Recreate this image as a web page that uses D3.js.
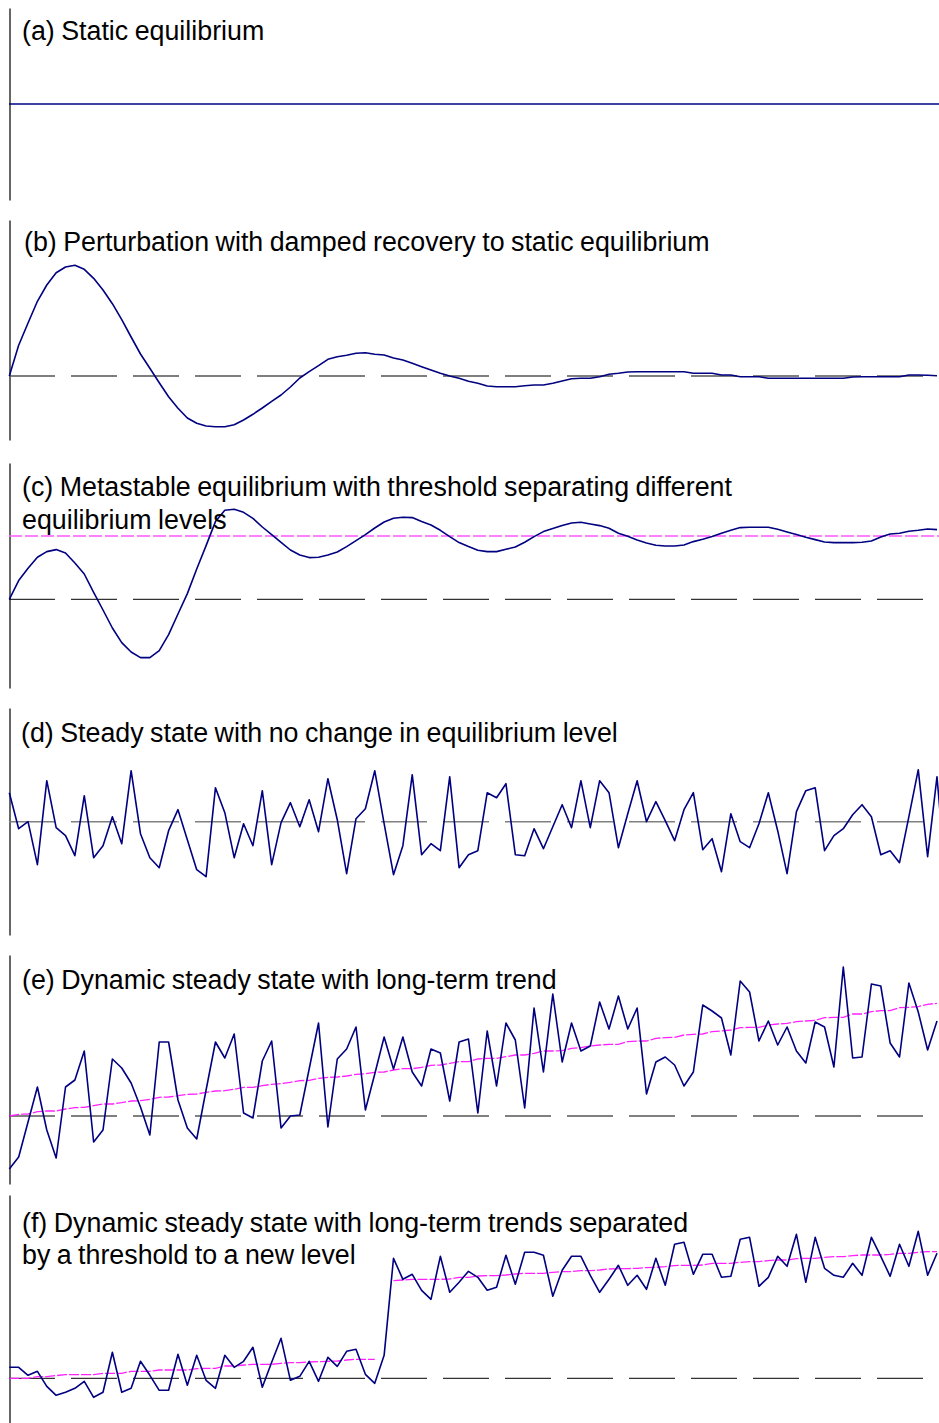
<!DOCTYPE html>
<html>
<head>
<meta charset="utf-8">
<script src="https://cdn.jsdelivr.net/npm/d3@7"></script>
<style>
  body { margin: 0; background: #fff; }
  svg { display: block; }
  .title { font-family: "Liberation Sans", Arial, sans-serif; font-size: 26.8px; word-spacing: -1px; fill: #000; }
  .axis path { stroke: #000; stroke-width: 1.2; }
</style>
</head>
<body>
<svg id="chart"></svg>
<script>
// ---- values (arbitrary units, 0 = equilibrium level) ----
const seriesA = [0, 0];

const seriesB = [0, 30.7, 53, 74.7, 91, 103.3, 109, 110.7, 106.7, 97.7, 86, 72.3, 56.3, 39, 22, 7.7, -6.7, -20.7, -32.3, -42,
  -47.3, -50, -50.7, -50.7, -48.7, -44, -38.3, -32, -25.3, -19, -11, -2, 4.3, 10.3, 16.7, 19.3, 20.7, 22.7, 23.3, 21.7,
  21, 18, 16, 12.7, 9.3, 6, 2.7, 0, -2.3, -5.3, -7.3, -10, -10.7, -10.7, -10.7, -9.7, -9, -9, -7.3, -5,
  -2.7, -2.3, -2.3, -0.7, 1.7, 2.7, 4, 4.3, 4.3, 4.3, 4.3, 4.3, 4.3, 2.7, 2.7, 2.7, 1, 1, -0.7, -0.7,
  -0.7, -2.3, -2.3, -2.3, -2.3, -2.3, -2.3, -2.3, -2.3, -2.3, -1, -0.7, -0.7, -0.7, -0.7, -0.7, 1, 1, 0.7, 0.3];

const seriesC = [0, 18.7, 31, 42, 47.7, 49.7, 46.3, 36.3, 25.3, 7, -10.7, -28.7, -43.3, -52.7, -58.3, -58.3, -51.3, -35.3, -14.7, 5.7,
  30.3, 53.7, 77.7, 89, 90, 87, 81, 72.3, 64.7, 57, 49.3, 44.3, 41.7, 42, 44.3, 47.3, 52.7, 58.7, 64.7, 71.3,
  77.3, 81, 82, 81.7, 77.7, 74.3, 69, 62.7, 56.7, 52.7, 49, 47.7, 47.7, 50, 52.3, 57, 62.7, 67.7, 70.7, 73.7,
  76.3, 77, 75.3, 73.7, 71, 66, 63, 59.3, 56.3, 54, 53.3, 53.3, 54.3, 57.7, 60, 62.7, 66, 69, 71.7, 72,
  72, 72, 70, 67.3, 64.7, 62, 59.7, 57.3, 56.7, 56.7, 56.7, 57, 58.3, 62.3, 65.3, 66, 68, 69, 70.3, 69.7];
const thresholdC = 63.3;

const seriesD = [29, -7, 0, -43, 41, -6, -14, -34, 26, -36, -24, 5, -22, 51, -12, -36, -46, -9, 12, -18,
  -48, -55, 34, 9, -36, -2, -24, 31, -43, -1, 19, -5, 22, -10, 43, 2, -52, 3, 13, 51,
  -2, -53, -24, 47, -33, -22, -29, 45, -46, -33, -29, 29, 24, 38, -33, -34, -7, -27, -5, 17,
  -6, 41, -6, 41, 29, -26, 8, 41, 0, 20, 1, -19, 12, 29, -28, -17, -50, 8, -20, -26,
  -2, 29, -9, -52, 10, 31, 34, -29, -14, -7, 7, 17, 5, -33, -29, -41, 5, 52, -35, 45, -65];

const seriesE = [-53, -41, -6, 29, -14, -42, 29, 36, 65, -26, -14, 57, 48, 33, 9, -19, 74, 74, 16, -12,
  -23, 26, 74, 58, 82, 3, -2, 55, 75, -12, 0, 1, 47, 93, -11, 57, 67, 89, 6, 42,
  79, 47, 79, 44, 30, 67, 63, 15, 74, 77, 3, 85, 30, 93, 76, 8, 108, 44, 122, 54,
  93, 65, 70, 114, 87, 120, 87, 108, 22, 54, 59, 51, 30, 44, 111, 105, 98, 61, 135, 124,
  75, 95, 71, 89, 65, 53, 94, 89, 49, 149, 58, 59, 132, 130, 73, 59, 133, 104, 66, 95];
const trendE = [0, 1.7, 2, 4.3, 5, 5, 7, 8.3, 8.7, 10.3, 12, 12, 13.3, 15, 15.3, 16.7, 18.7, 19, 20.3, 21.7,
  22, 23.7, 25, 25.3, 26.7, 28.7, 28.7, 30.3, 31.7, 32.3, 33.7, 35.3, 35.7, 37.7, 38.7, 39, 40, 41.7, 42.3, 43.7,
  44, 46, 47.3, 47.3, 48.7, 50.7, 51, 52.7, 54.3, 54.3, 57, 57.7, 57.7, 59.3, 61, 61, 62.7, 65, 65, 65.3,
  67.7, 68.3, 70, 71, 71.7, 71.7, 74.3, 75, 75, 77.7, 78.3, 78.7, 81, 81.7, 82, 84.3, 85, 86, 88.3, 88.7,
  88.7, 91, 92, 92.7, 94.3, 95, 95.7, 98.3, 98.7, 98.7, 102, 102, 104.3, 105.3, 105.3, 108.3, 108.7, 109.3, 111.7, 112.7];

const seriesF = [11, 11, 3, 7, -8, -17, -14, -10, -3, -19, -14, 26, -14, -10, 17, 3, -12, -12, 24, -7,
  23, -2, -10, 23, 11, 17, 31, -9, 16, 40, -2, 2, 17, -3, 21, 12, 27, 29, 4, -5,
  23, 120, 99, 104, 88, 79, 122, 86, 96, 107, 101, 88, 91, 123, 94, 126, 126, 123, 82, 108,
  122, 122, 103, 86, 99, 113, 93, 103, 89, 120, 93, 134, 136, 104, 124, 124, 101, 102, 139, 141,
  92, 101, 122, 112, 144, 96, 141, 110, 103, 101, 115, 103, 141, 122, 102, 134, 112, 147, 103, 125];
// trend before the threshold (steps 0-39) and after it (steps 41-99)
const trendF1 = [0, 0, 0, 1.7, 1.7, 2.7, 3.7, 3.7, 3.7, 3.7, 5, 5, 5, 7, 7, 7, 8.3, 8.3, 8.3, 8.3,
  9.7, 10, 10, 12.3, 12.3, 13.3, 14, 14, 14, 15, 15.7, 15.7, 16.3, 16.7, 17, 17.3, 18.3, 19, 19, 19];
const trendF2 = [97.7, 98.3, 99, 99, 99, 99, 99.3, 101, 101, 102.3, 102.7, 102.7, 103.3, 104.3, 105, 105, 105, 106, 106.7, 106.7,
  107.7, 107.7, 108.3, 109.3, 109.7, 109.7, 110, 110.7, 111, 111.7, 112.7, 113, 113, 113.3, 115, 115, 115, 116, 116.7, 116.7,
  117.7, 118.3, 118.3, 119.7, 120, 120, 121, 121.7, 121.7, 122.7, 123.3, 123.3, 123.3, 124, 125, 125, 126, 126.7, 126.7];
const trendF2Start = 41;

const titles = [
  ['(a) Static equilibrium'],
  ['(b) Perturbation with damped recovery to static equilibrium'],
  ['(c) Metastable equilibrium with threshold separating different', 'equilibrium levels'],
  ['(d) Steady state with no change in equilibrium level'],
  ['(e) Dynamic steady state with long-term trend'],
  ['(f) Dynamic steady state with long-term trends separated', 'by a threshold to a new level']
];

class Panel {
  constructor(_config, _data) {
    this.config = {
      top: _config.top,
      bottom: _config.bottom,
      domain: _config.domain,
      titleX: _config.titleX || 22,
      titleY: _config.titleY,
      lineGap: _config.lineGap || 33,
      baseColor: _config.baseColor || '#000',
      baseWidth: _config.baseWidth || 1,
      showBase: _config.showBase !== false,
      xDomain: _config.xDomain || [0, 99],
      xRange: _config.xRange || [9.3, 937]
    };
    this.data = _data;
    this.initVis();
  }

  initVis() {
    let vis = this;
    vis.xScale = d3.scaleLinear().domain(vis.config.xDomain).range(vis.config.xRange);
    vis.yScale = d3.scaleLinear().domain(vis.config.domain).range([vis.config.bottom, vis.config.top]);
    vis.g = svg.append('g');

    // plain left axis line, no ticks
    vis.g.append('g')
        .attr('class', 'axis')
        .attr('transform', 'translate(9.5,0)')
        .call(d3.axisLeft(vis.yScale).tickValues([]).tickSizeOuter(0));

    if (vis.config.showBase) {
      vis.g.append('line')
          .attr('x1', 9).attr('x2', 939)
          .attr('y1', vis.yScale(0)).attr('y2', vis.yScale(0))
          .attr('stroke', vis.config.baseColor)
          .attr('stroke-width', vis.config.baseWidth)
          .attr('stroke-dasharray', '46,16');
    }
  }

  renderVis() {
    let vis = this;
    const line = d3.line()
        .x(d => vis.xScale(d[0]))
        .y(d => vis.yScale(d[1]));

    if (vis.data.threshold !== undefined) {
      vis.g.append('line')
          .attr('x1', 9).attr('x2', 939)
          .attr('y1', vis.yScale(vis.data.threshold)).attr('y2', vis.yScale(vis.data.threshold))
          .attr('stroke', '#ff55ff')
          .attr('stroke-width', 1.4)
          .attr('stroke-dasharray', '13,3');
    }

    (vis.data.trends || []).forEach(t => {
      vis.g.append('path')
          .datum(t.values.map((v, i) => [i + t.start, v]))
          .attr('fill', 'none')
          .attr('stroke', '#ff22ff')
          .attr('stroke-width', 1.3)
          .attr('stroke-dasharray', '10,2')
          .attr('d', line);
    });

    vis.g.append('path')
        .datum(vis.data.values.map((v, i) => [i, v]))
        .attr('fill', 'none')
        .attr('stroke', '#000080')
        .attr('stroke-width', 1.6)
        .attr('stroke-linejoin', 'round')
        .attr('d', line);

    const txt = vis.g.append('text')
        .attr('class', 'title')
        .attr('x', vis.config.titleX)
        .attr('y', vis.config.titleY);
    vis.data.title.forEach((s, i) => {
      txt.append('tspan')
          .attr('x', vis.config.titleX)
          .attr('dy', i === 0 ? 0 : vis.config.lineGap)
          .text(s);
    });
  }
}

const svg = d3.select('#chart').attr('width', 939).attr('height', 1423);

const panels = [
  new Panel({top: 8, bottom: 200, domain: [-96, 96], titleY: 40, showBase: false, xDomain: [0, 1], xRange: [9, 939]},
            {values: seriesA, title: titles[0]}),
  new Panel({top: 220, bottom: 440, domain: [-64, 156], titleX: 24, titleY: 251, baseColor: '#555', baseWidth: 1.3},
            {values: seriesB, title: titles[1]}),
  new Panel({top: 463, bottom: 688, domain: [-88.7, 136.3], titleY: 496},
            {values: seriesC, title: titles[2], threshold: thresholdC}),
  new Panel({top: 708, bottom: 935, domain: [-113.3, 113.7], titleX: 21, titleY: 742, baseColor: '#808080', baseWidth: 1.6},
            {values: seriesD, title: titles[3]}),
  new Panel({top: 955, bottom: 1184, domain: [-68, 161], titleY: 989},
            {values: seriesE, title: titles[4], trends: [{start: 0, values: trendE}]}),
  new Panel({top: 1195, bottom: 1423, domain: [-44.7, 183.3], titleY: 1232, lineGap: 32},
            {values: seriesF, title: titles[5], trends: [{start: 0, values: trendF1}, {start: trendF2Start, values: trendF2}]})
];
panels.forEach(p => p.renderVis());
</script>
</body>
</html>
